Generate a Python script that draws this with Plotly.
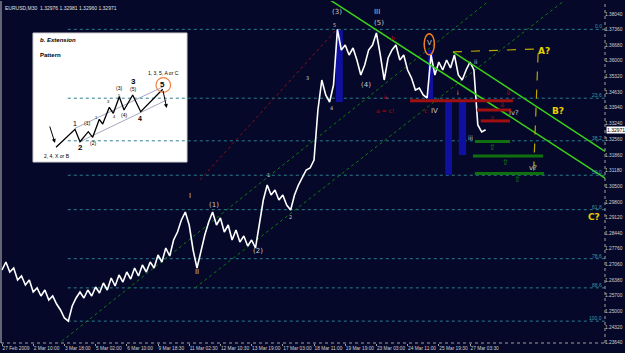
import plotly.graph_objects as go

# ---------------- data ----------------
BAR_STEP = 8  # M30 bars between consecutive close samples
close_prices = [
    1.26815, 1.27166, 1.26727, 1.26903, 1.26376, 1.26552, 1.26156, 1.26376, 1.25849, 1.26025,
    1.25674, 1.25937, 1.25498, 1.25674, 1.25322, 1.25059, 1.24708, 1.24570, 1.25235, 1.25586,
    1.25849, 1.25586, 1.25937, 1.25674, 1.26069, 1.25805, 1.26244, 1.25937, 1.26464, 1.26113,
    1.26595, 1.26288, 1.26727, 1.26420, 1.26903, 1.26552, 1.27034, 1.26727, 1.27166, 1.26903,
    1.27473, 1.27166, 1.27781, 1.27430, 1.28132, 1.28483, 1.29010, 1.29361, 1.28790, 1.27693,
    1.26903, 1.27693, 1.28351, 1.28922, 1.29361, 1.28790, 1.29098, 1.28483, 1.28790, 1.28132,
    1.28571, 1.28044, 1.28308, 1.27869, 1.28132, 1.27781, 1.28790, 1.29888, 1.30546, 1.30107,
    1.30327, 1.29888, 1.30107, 1.29668, 1.29449, 1.30107, 1.30546, 1.30854, 1.31205, 1.31293,
    1.31644, 1.33839, 1.35156, 1.34497, 1.34190, 1.34936, 1.37380, 1.36473, 1.36692, 1.36253,
    1.36561, 1.36034, 1.35375, 1.35814, 1.36473, 1.36692, 1.37219, 1.36253, 1.35156, 1.36122,
    1.36473, 1.36692, 1.36034, 1.36253, 1.35595, 1.35244, 1.34717, 1.34805, 1.34497, 1.34366,
    1.36253, 1.35375, 1.35946, 1.35595, 1.36034, 1.35683, 1.36253, 1.35375, 1.35156, 1.35595,
    1.35946, 1.35595, 1.33180, 1.32873, 1.32971,
]

x_tick_bars = [0, 64, 128, 192, 256, 320, 384, 448, 512, 576, 640, 704, 768, 832, 896, 960]
x_tick_labels = ["27 Feb 2009", "2 Mar 10:00", "3 Mar 18:00", "5 Mar 02:00", "6 Mar 10:00",
                 "9 Mar 18:30", "11 Mar 02:30", "12 Mar 10:30", "13 Mar 19:00", "17 Mar 03:00",
                 "18 Mar 11:00", "19 Mar 19:00", "23 Mar 03:00", "24 Mar 11:00", "25 Mar 19:30",
                 "27 Mar 03:30"]
y_tick_prices = [1.38040, 1.37360, 1.36680, 1.36000, 1.35320, 1.34630, 1.33940, 1.33240,
                 1.32560, 1.31860, 1.31180, 1.30500, 1.29800, 1.29120, 1.28440, 1.27760,
                 1.27060, 1.26380, 1.25700, 1.25000, 1.24320, 1.23640]

header_values = ["1.32976", "1.32981", "1.32960", "1.32971"]
last_price = 1.32971

fib_levels = [0.0, 23.6, 38.2, 50.0, 61.8, 78.6, 88.6, 100.0]
fib_high = 1.3738
fib_low = 1.2457
fib_start_bar = 135

# blue boxes
blue_bar_x0 = [685, 874, 909, 937]
blue_bar_x1 = [699, 884, 923, 952]
blue_bar_top = [1.3735, 1.3647, 1.3428, 1.3428]
blue_bar_bottom = [1.3419, 1.3428, 1.3099, 1.3186]

# red resistance zones
red_zone_x0 = [837, 974, 982]
red_zone_x1 = [1048, 1044, 1042]
red_zone_price = [1.3424, 1.3384, 1.3336]
red_arrow_bar = [1038, 1026, 1007]
red_arrow_price = [1.3458, 1.3406, 1.3340]

# green support zones
green_zone_x0 = [970, 966, 970]
green_zone_x1 = [1042, 1110, 1112]
green_zone_price = [1.3246, 1.3182, 1.3105]
green_arrow_bar = [1007, 1032, 1057]
green_arrow_price = [1.3218, 1.3153, 1.3077]

# trend lines (bar, price)
chan1_bars = [673, 1237]
chan1_prices = [1.3867, 1.3085]
chan2_bars = [925, 1237]
chan2_prices = [1.3639, 1.3202]
dot_a_bars = [113, 1001]
dot_a_prices = [1.2352, 1.3867]
dot_b_bars = [396, 1155]
dot_b_prices = [1.2603, 1.3867]
red_dot_bars = [406, 685]
red_dot_prices = [1.3077, 1.3735]
yellow_bars = [925, 1100, 1090]
yellow_prices = [1.3639, 1.3652, 1.3085]

# wave labels: text, bar, price, colour, size
wave_labels = [
    ("(3)", 687, 1.3814, "#c8c8c8", 7), ("III", 770, 1.3814, "#c8c8c8", 7),
    ("(5)", 773, 1.3765, "#c8c8c8", 7), ("5", 683, 1.3757, "#c8c8c8", 5),
    ("3", 626, 1.3525, "#c8c8c8", 5), ("4", 675, 1.3392, "#c8c8c8", 5),
    ("(4)", 747, 1.3494, "#c8c8c8", 7), ("1", 546, 1.3099, "#c8c8c8", 5),
    ("2", 591, 1.2914, "#c8c8c8", 5), ("(1)", 435, 1.2967, "#c8c8c8", 7),
    ("(2)", 525, 1.2765, "#c8c8c8", 7), ("I", 386, 1.3007, "#c8c8c8", 7),
    ("II", 400, 1.2673, "#c8c8c8", 7), ("a", 786, 1.3441, "#c00000", 6),
    ("b", 802, 1.3700, "#c00000", 6), ("a = c!", 786, 1.3380, "#c00000", 6),
    ("c", 868, 1.3380, "#c00000", 6), ("IV", 888, 1.3380, "#c8c8c8", 7),
    ("V", 876, 1.3678, "#c8c8c8", 7), ("i", 935, 1.3459, "#c8c8c8", 6),
    ("ii", 972, 1.3599, "#c8c8c8", 6), ("iii", 962, 1.3265, "#c8c8c8", 6),
    ("iv?", 1050, 1.3371, "#c8c8c8", 7), ("v?", 1090, 1.3129, "#c8c8c8", 7),
    ("A?", 1112, 1.3643, "#e6d200", 9), ("B?", 1141, 1.3380, "#e6d200", 9),
    ("C?", 1214, 1.2914, "#e6d200", 9),
]

# inset pattern (local drawing units of the inset panel)
pat_x = [23, 42, 47, 55.3, 59.7, 66.3, 69.7, 76.3, 80.3, 86.3, 91, 99.7, 107.7, 129.7]
pat_y = [114.3, 96.3, 108.7, 98.7, 104.3, 86.3, 91, 74.3, 80.3, 63.7, 77, 62, 78.7, 56.3]
pat_chan_top_x = [42, 130.3]
pat_chan_top_y = [95.3, 53.7]
pat_chan_bot_x = [47, 133.7]
pat_chan_bot_y = [108.7, 67]
pat_labels = [
    ("1", 42, 90, 7, False), ("2", 47.7, 114.5, 8, True), ("(1)", 53.7, 90.3, 5, False),
    ("(2)", 60.3, 110.3, 5, False), ("1", 63.7, 84.3, 4, False), ("3", 75.3, 68.7, 4, False),
    ("4", 81.3, 83, 4, False), ("5", 86.3, 62, 4, False), ("(3)", 86.3, 55.3, 5, False),
    ("(4)", 91, 82, 5, False), ("3", 100.3, 48.7, 8, True), ("(5)", 99.7, 56, 5, False),
    ("4", 107, 85.3, 7, True), ("5", 129.3, 51, 8, True),
]

# ---------------- figure ----------------
BG = "#050828"
W, H = 625, 353
ML, MR, MT, MB = 1, 20, 1, 10
x_range = [-2.05, 1236.9]
y_range = [1.23610, 1.38624]

bars = [i * BAR_STEP for i in range(len(close_prices))]

fig = go.Figure()

# fib lines
fib_prices = [fib_high - (fib_high - fib_low) * lv / 100 for lv in fib_levels]
for lv, p in zip(fib_levels, fib_prices):
    fig.add_shape(type="line", xref="x", yref="y", x0=fib_start_bar, x1=x_range[1],
                  y0=p, y1=p, line=dict(color="#2b7f8f", width=1, dash="dot"), layer="below")
    fig.add_annotation(x=1.0, xref="paper", y=p, yref="y", text=("%.1f" % lv),
                       showarrow=False, xanchor="right", yanchor="bottom",
                       font=dict(size=5, color="#3a9ab0", family="Liberation Sans"),
                       xshift=-1, yshift=-2)

# blue boxes
for x0, x1, t, b in zip(blue_bar_x0, blue_bar_x1, blue_bar_top, blue_bar_bottom):
    fig.add_shape(type="rect", xref="x", yref="y", x0=x0, x1=x1, y0=b, y1=t,
                  fillcolor="#1010a0", line=dict(width=0), layer="below")

# zones
for x0, x1, p in zip(red_zone_x0, red_zone_x1, red_zone_price):
    fig.add_shape(type="line", xref="x", yref="y", x0=x0, x1=x1, y0=p, y1=p,
                  line=dict(color="#a01010", width=3))
for x0, x1, p in zip(green_zone_x0, green_zone_x1, green_zone_price):
    fig.add_shape(type="line", xref="x", yref="y", x0=x0, x1=x1, y0=p, y1=p,
                  line=dict(color="#107010", width=3))
fig.add_trace(go.Scatter(x=red_arrow_bar, y=red_arrow_price, mode="text", text=["⇩"] * 3,
                         textfont=dict(color="#c01010", size=8), hoverinfo="skip"))
fig.add_trace(go.Scatter(x=green_arrow_bar, y=green_arrow_price, mode="text", text=["⇧"] * 3,
                         textfont=dict(color="#109010", size=8), hoverinfo="skip"))

# dotted lines
fig.add_trace(go.Scatter(x=dot_a_bars, y=dot_a_prices, mode="lines",
                         line=dict(color="#0e7a0e", width=1, dash="dot"), hoverinfo="skip"))
fig.add_trace(go.Scatter(x=dot_b_bars, y=dot_b_prices, mode="lines",
                         line=dict(color="#0e7a0e", width=1, dash="dot"), hoverinfo="skip"))
fig.add_trace(go.Scatter(x=red_dot_bars, y=red_dot_prices, mode="lines",
                         line=dict(color="#8a1010", width=1, dash="dot"), hoverinfo="skip"))

# price
fig.add_trace(go.Scatter(x=bars, y=close_prices, mode="lines",
                         line=dict(color="#ffffff", width=1.6), hoverinfo="skip"))

# channel lines
fig.add_trace(go.Scatter(x=chan1_bars, y=chan1_prices, mode="lines",
                         line=dict(color="#3ad21a", width=1.5), hoverinfo="skip"))
fig.add_trace(go.Scatter(x=chan2_bars, y=chan2_prices, mode="lines",
                         line=dict(color="#3ad21a", width=1.5), hoverinfo="skip"))
fig.add_trace(go.Scatter(x=yellow_bars, y=yellow_prices, mode="lines",
                         line=dict(color="#b8a800", width=1.2, dash="dash"), hoverinfo="skip"))

# orange circle around V
fig.add_shape(type="circle", xref="x", yref="y", x0=866, x1=887, y0=1.3626, y1=1.3719,
              line=dict(color="#f08020", width=1.5))

for txt, bx, pr, col, sz in wave_labels:
    bold = txt.endswith("?") and txt[0] in "ABC"
    fig.add_annotation(x=bx, y=pr, text=("<b>%s</b>" % txt) if bold else txt, showarrow=False,
                       font=dict(size=sz, color=col, family="DejaVu Sans"))

# header
fig.add_annotation(x=0.004, y=0.995, xref="paper", yref="paper", xanchor="left", yanchor="top",
                   text="EURUSD,M30  " + " ".join(header_values), showarrow=False,
                   font=dict(size=5, color="#e0e0e0", family="Liberation Sans"))

# last price box
fig.add_annotation(x=1.0, xref="paper", y=last_price, yref="y", xanchor="left",
                   text="%.5f" % last_price, showarrow=False, bgcolor="#ffffff",
                   font=dict(size=5, color="#000000", family="Liberation Sans"),
                   xshift=1, borderpad=0)

# ---- inset ----
ix0, ix1 = (33 - ML) / (W - ML - MR), (187 - ML) / (W - ML - MR)
iy1, iy0 = 1 - (33 - MT) / (H - MT - MB), 1 - (162 - MT) / (H - MT - MB)
fig.add_shape(type="rect", xref="paper", yref="paper", x0=ix0, x1=ix1, y0=iy0, y1=iy1,
              fillcolor="#ffffff", line=dict(color="#d0d0d0", width=1), layer="below")
fig.add_trace(go.Scatter(x=pat_chan_top_x, y=pat_chan_top_y, xaxis="x2", yaxis="y2",
                         mode="lines", line=dict(color="#9090b0", width=0.8), hoverinfo="skip"))
fig.add_trace(go.Scatter(x=pat_chan_bot_x, y=pat_chan_bot_y, xaxis="x2", yaxis="y2",
                         mode="lines", line=dict(color="#9090b0", width=0.8), hoverinfo="skip"))
fig.add_trace(go.Scatter(x=pat_x, y=pat_y, xaxis="x2", yaxis="y2", mode="lines",
                         line=dict(color="#000000", width=1.3), hoverinfo="skip"))
fig.add_annotation(x=133.7, y=75, ax=129.7, ay=56.3, xref="x2", yref="y2", axref="x2", ayref="y2",
                   showarrow=True, arrowhead=2, arrowsize=0.8, arrowwidth=1, arrowcolor="#000000", text="")
fig.add_annotation(x=22, y=110, ax=16.3, ay=92, xref="x2", yref="y2", axref="x2", ayref="y2",
                   showarrow=True, arrowhead=2, arrowsize=0.8, arrowwidth=1, arrowcolor="#000000", text="")
fig.add_shape(type="circle", xref="x2", yref="y2", x0=123, x1=137.6, y0=44.7, y1=59.3,
              line=dict(color="#f08040", width=1.2))
for txt, lx, ly, sz, bold in pat_labels:
    fig.add_annotation(x=lx, y=ly, xref="x2", yref="y2", text=("<b>%s</b>" % txt) if bold else txt,
                       showarrow=False, font=dict(size=sz, color="#000000", family="Liberation Sans"))
fig.add_annotation(x=5, y=7, xref="x2", yref="y2", xanchor="left", text="<b><i>b. Extension</i></b>",
                   showarrow=False, font=dict(size=6, color="#000000", family="Liberation Sans"))
fig.add_annotation(x=5, y=22, xref="x2", yref="y2", xanchor="left", text="<b>Pattern</b>",
                   showarrow=False, font=dict(size=6, color="#000000", family="Liberation Sans"))
fig.add_annotation(x=130.3, y=40, xref="x2", yref="y2", text="1, 3, 5, A or C",
                   showarrow=False, font=dict(size=5, color="#000000", family="Liberation Sans"))
fig.add_annotation(x=23.7, y=123, xref="x2", yref="y2", text="2, 4, X or B",
                   showarrow=False, font=dict(size=5, color="#000000", family="Liberation Sans"))

# frame
fig.add_shape(type="line", xref="paper", yref="paper", x0=1, x1=1, y0=0, y1=1,
              line=dict(color="#a0a0a0", width=1, dash="dot"))
fig.add_shape(type="line", xref="paper", yref="paper", x0=0, x1=1, y0=0, y1=0,
              line=dict(color="#a0a0a0", width=1, dash="dot"))
fig.add_shape(type="line", xref="paper", yref="paper", x0=0, x1=0, y0=0, y1=1,
              line=dict(color="#c0c0c0", width=1))

fig.update_layout(
    width=W, height=H, margin=dict(l=ML, r=MR, t=MT, b=MB, autoexpand=False),
    paper_bgcolor=BG, plot_bgcolor="rgba(0,0,0,0)", showlegend=False,
    xaxis=dict(range=x_range, showgrid=False, zeroline=False, tickvals=x_tick_bars,
               ticktext=x_tick_labels, ticks="outside", ticklen=2, tickcolor="#a0a0a0",
               ticklabelposition="outside right", tickangle=0, automargin=False,
               tickfont=dict(size=4.8, color="#d0d0d0", family="Liberation Sans")),
    yaxis=dict(range=y_range, side="right", showgrid=False, zeroline=False,
               tickvals=y_tick_prices, ticktext=["%.5f" % v for v in y_tick_prices],
               ticks="", ticklabelstandoff=-1, automargin=False,
               tickfont=dict(size=4.8, color="#d0d0d0", family="Liberation Sans")),
    xaxis2=dict(domain=[ix0, ix1], range=[0, 154], visible=False, anchor="y2"),
    yaxis2=dict(domain=[iy0, iy1], range=[129, 0], visible=False, anchor="x2"),
)

fig.write_html("out.html")
